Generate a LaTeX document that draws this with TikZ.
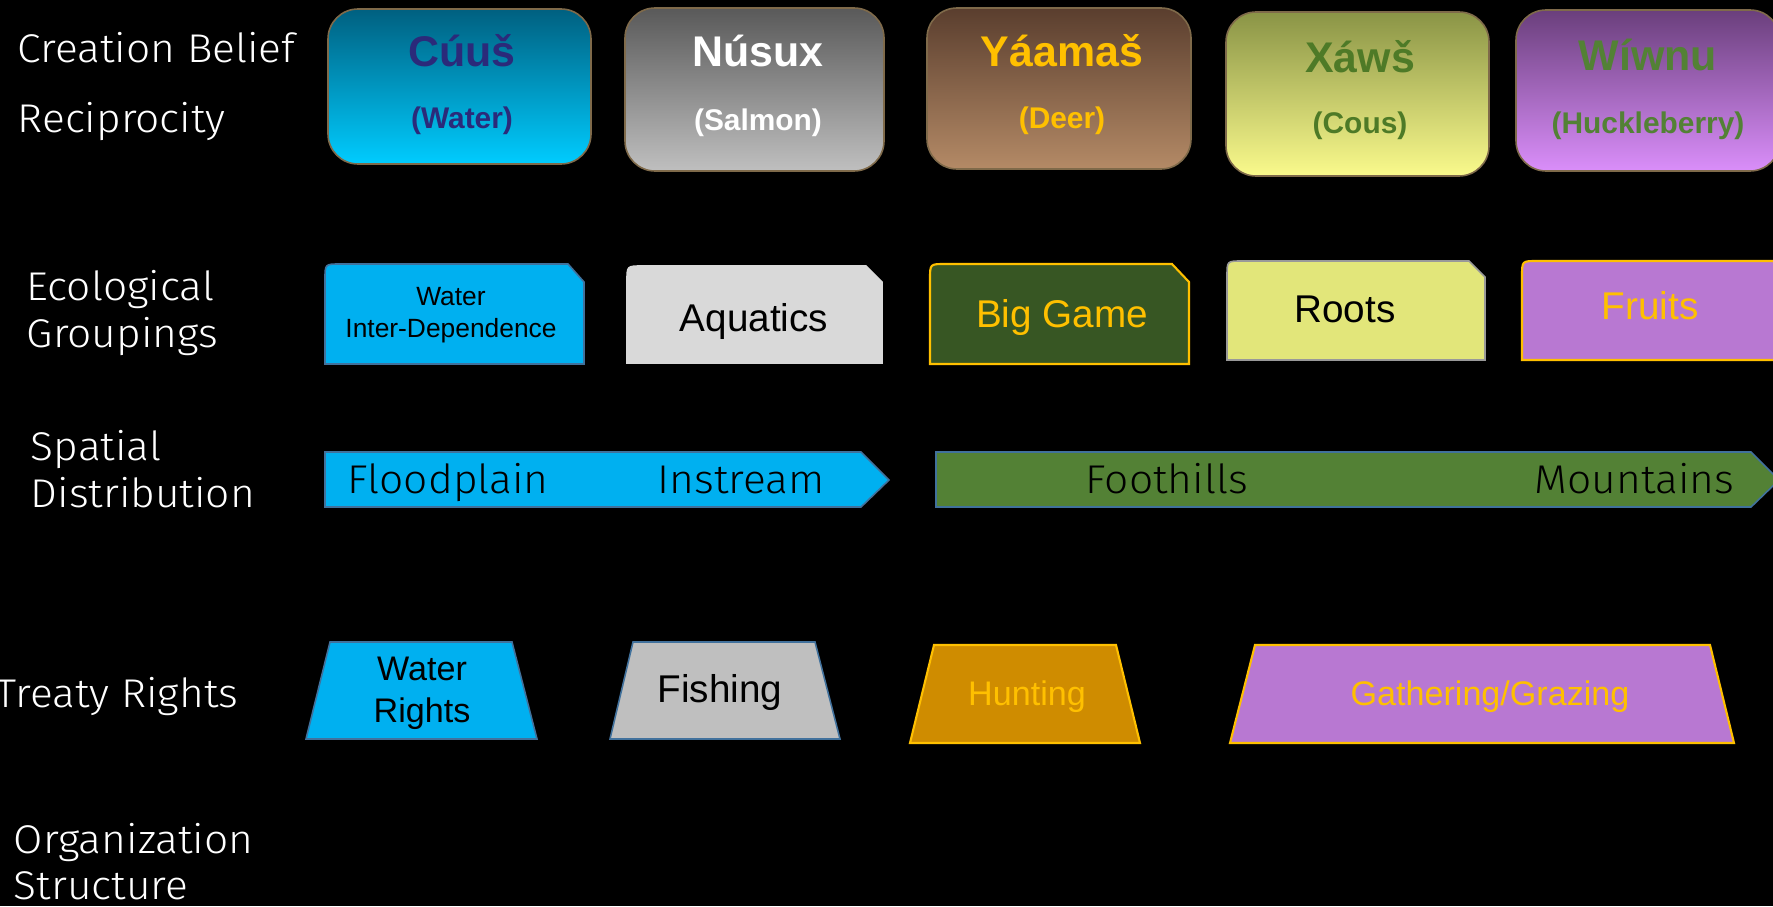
\documentclass[tikz,border=0pt]{standalone}
\usepackage{fontspec}
\setmainfont{Liberation Sans}
\newfontfamily\labfont{Fira Sans Light}[FakeStretch=1.06]
\definecolor{brd}{HTML}{7F6A4A}
\definecolor{edge}{HTML}{41719C}
\definecolor{gold}{HTML}{FFC000}
\definecolor{sky}{HTML}{00B0F0}
\definecolor{navy}{HTML}{2B2A7A}
\definecolor{leaf}{HTML}{4E7A27}
\definecolor{grass}{HTML}{538135}
\definecolor{pine}{HTML}{375623}
\definecolor{lime}{HTML}{E2E67A}
\definecolor{plum}{HTML}{B878D2}
\definecolor{ochre}{HTML}{CF8C00}
\definecolor{cuTop}{HTML}{006080}
\definecolor{cuBot}{HTML}{00CCFF}
\begin{document}
\begin{tikzpicture}[x=0.01cm,y=-0.01cm,line width=0.45pt,
    lab/.style={white,inner sep=0pt,anchor=base west,font=\labfont\fontsize{11.4}{13}\selectfont},
    spot/.style={black,inner sep=0pt,anchor=base west,font=\labfont\fontsize{11.4}{13}\selectfont},
    ttl/.style={anchor=base,inner sep=0pt,font=\bfseries\fontsize{12.2}{14}\selectfont},
    sub/.style={anchor=base,inner sep=0pt,font=\bfseries\fontsize{8.5}{10}\selectfont},
    txt/.style={anchor=base,inner sep=0pt,font=\fontsize{11}{13}\selectfont},
    mid/.style={anchor=base,inner sep=0pt,font=\fontsize{9.7}{12}\selectfont},
    small/.style={anchor=base,inner sep=0pt,font=\fontsize{7.5}{9}\selectfont}]
\fill[black] (0,0) rectangle (1773,906);
\useasboundingbox (0,0) rectangle (1773,906);
% row labels
\node[lab] (creation) at (17,62) {Creation Belief};
\node[lab] (recip) at (17,132) {Reciprocity};
\node[lab] (eco1) at (26,300) {Ecological};
\node[lab] (eco2) at (26,347) {Groupings};
\node[lab] (spat1) at (30,460) {Spatial};
\node[lab] (spat2) at (30,507) {Distribution};
\node[lab,anchor=base east] (treaty) at (239,707) {Treaty Rights};
\node[lab] (org1) at (13,853) {Organization};
\node[lab] (org2) at (13,899) {Structure};
% creation boxes
\draw[brd,rounded corners=0.3cm,top color=cuTop,bottom color=cuBot] (328,9) rectangle (591,164);
\draw[brd,rounded corners=0.3cm,top color=black!65,bottom color=black!25] (625,8) rectangle (884,171);
\draw[brd,rounded corners=0.3cm,top color={rgb,255:red,90;green,62;blue,46},bottom color={rgb,255:red,180;green,138;blue,102}] (927,8) rectangle (1191,169);
\draw[brd,rounded corners=0.3cm,top color={rgb,255:red,138;green,148;blue,70},bottom color={rgb,255:red,250;green,250;blue,140}] (1226,12) rectangle (1489,176);
\draw[brd,rounded corners=0.3cm,top color={rgb,255:red,106;green,63;blue,124},bottom color={rgb,255:red,218;green,142;blue,250}] (1516,10) rectangle (1780,171);
\node[ttl,navy] (cuus) at (462,66) {Cúuš};
\node[sub,navy] (water) at (462,128) {(Water)};
\node[ttl,white] (nusux) at (758,66) {Núsux};
\node[sub,white] (salmon) at (758,130) {(Salmon)};
\node[ttl,gold] (yaamas) at (1062,67) {Yáamaš};
\node[sub,gold] (deer) at (1062,128) {(Deer)};
\node[ttl,leaf] (xaws) at (1360,72) {Xáwš};
\node[sub,leaf] (cous) at (1360,133) {(Cous)};
\node[ttl,grass] (wiwnu) at (1648,70) {Wíwnu};
\node[sub,grass] (huck) at (1648,133) {(Huckleberry)};
% ecological groupings
\draw[edge,fill=sky] (325,364) -- (325,279) .. controls (325,264) .. (340,264) -- (568,264) -- (584,282) -- (584,364) -- cycle;
\draw[black!15,fill=black!15] (627,363) -- (627,281) .. controls (627,266) .. (642,266) -- (866,266) -- (882,282) -- (882,363) -- cycle;
\draw[gold,line width=0.6pt,fill=pine] (930,364) -- (930,279) .. controls (930,264) .. (945,264) -- (1172,264) -- (1189,282) -- (1189,364) -- cycle;
\draw[black!40,fill=lime] (1227,360) -- (1227,276) .. controls (1227,261) .. (1242,261) -- (1469,261) -- (1485,277) -- (1485,360) -- cycle;
\draw[gold,line width=0.6pt,fill=plum] (1522,360) -- (1522,276) .. controls (1522,261) .. (1537,261) -- (1773,261) -- (1790,278) -- (1790,360) -- cycle;
\node[small] (wat1) at (451,305) {Water};
\node[small] (wat2) at (451,337) {Inter-Dependence};
\node[txt] (aquatics) at (754,331) {Aquatics};
\node[txt,gold] (biggame) at (1062,327) {Big Game};
\node[txt] (roots) at (1345,322) {Roots};
\node[txt,gold] (fruits) at (1650,319) {Fruits};
% spatial distribution
\draw[edge,fill=sky] (325,452) -- (861,452) -- (889,480) -- (861,507) -- (325,507) -- cycle;
\draw[edge,fill=grass] (936,452) -- (1751,452) -- (1779,480) -- (1751,507) -- (936,507) -- cycle;
\node[spot] (flood) at (347,493) {Floodplain};
\node[spot] (instream) at (657,493) {Instream};
\node[spot] (foothills) at (1085,493) {Foothills};
\node[spot] (mountains) at (1534,493) {Mountains};
% treaty rights
\draw[edge,fill=sky] (330,642) -- (512,642) -- (537,739) -- (306,739) -- cycle;
\draw[edge,fill=black!25] (633,642) -- (815,642) -- (840,739) -- (610,739) -- cycle;
\draw[gold,line width=0.6pt,fill=ochre] (934,645) -- (1116,645) -- (1140,743) -- (910,743) -- cycle;
\draw[gold,line width=0.6pt,fill=plum] (1255,645) -- (1710,645) -- (1734,743) -- (1230,743) -- cycle;
\node[mid] (wr1) at (422,680) {Water};
\node[mid] (wr2) at (422,722) {Rights};
\node[txt] (fishing) at (720,702) {Fishing};
\node[mid,gold] (hunting) at (1027,705) {Hunting};
\node[mid,gold] (gathering) at (1490,705) {Gathering/Grazing};
\end{tikzpicture}
\end{document}
